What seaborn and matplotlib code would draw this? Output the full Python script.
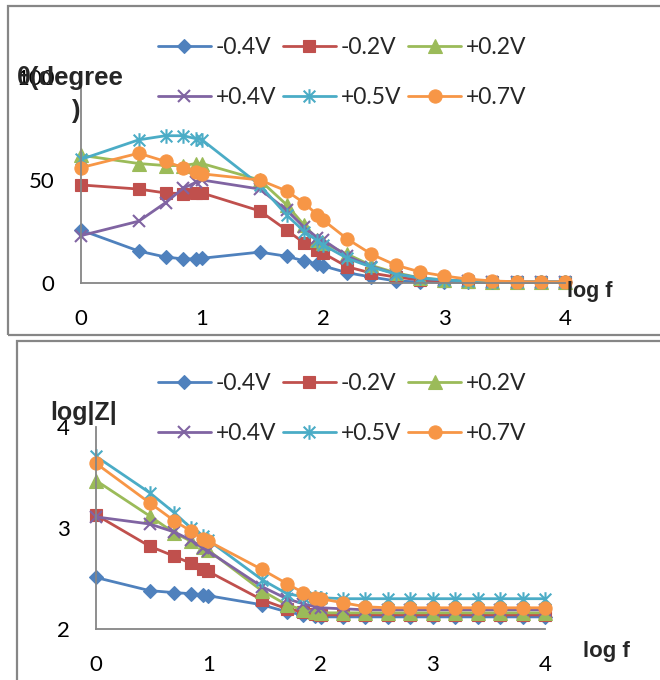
import matplotlib
matplotlib.use("Agg")
import matplotlib.pyplot as plt
import seaborn as sns
import numpy as np
from matplotlib.path import Path
from matplotlib.patches import Rectangle

# ---------------- data ----------------
log_f = [0, 0.477, 0.699, 0.845, 0.954, 1.0, 1.477, 1.699, 1.845, 1.954, 2.0,
         2.2, 2.4, 2.6, 2.8, 3.0, 3.2, 3.4, 3.6, 3.8, 4.0]

series_labels = ["-0.4V", "-0.2V", "+0.2V", "+0.4V", "+0.5V", "+0.7V"]

theta_m04 = [25.7, 15.5, 12.6, 11.7, 11.7, 12.0, 15.0, 13.0, 10.7, 9.3, 8.3,
             5.0, 2.9, 1.0, 0.5, 0.3, 0.3, 0.3, 0.3, 0.3, 0.3]
theta_m02 = [47.6, 45.6, 43.7, 43.4, 43.7, 43.7, 35.0, 25.7, 19.4, 16.0, 14.5,
             7.9, 4.8, 2.9, 1.5, 1.0, 0.6, 0.5, 0.4, 0.4, 0.4]
theta_p02 = [62.0, 58.0, 57.0, 57.0, 58.0, 58.0, 50.0, 38.0, 28.0, 21.0, 19.5,
             14.0, 8.5, 5.0, 2.5, 1.5, 0.8, 0.6, 0.5, 0.5, 0.5]
theta_p04 = [23.0, 30.0, 39.0, 46.0, 49.0, 50.0, 45.6, 35.4, 27.0, 22.0, 21.0,
             13.0, 8.0, 4.5, 2.3, 1.3, 0.8, 0.6, 0.5, 0.5, 0.5]
theta_p05 = [60.0, 69.5, 71.5, 71.5, 70.0, 69.5, 47.6, 33.0, 25.0, 20.5, 18.5,
             12.0, 7.7, 4.4, 2.4, 1.5, 0.8, 0.6, 0.5, 0.5, 0.5]
theta_p07 = [56.0, 63.0, 59.0, 56.0, 54.0, 53.0, 50.0, 44.7, 38.8, 33.0, 30.6,
             21.4, 14.0, 8.7, 5.4, 3.4, 1.9, 1.0, 0.6, 0.5, 0.5]

logz_m04 = [2.51, 2.38, 2.36, 2.35, 2.34, 2.33, 2.24, 2.17, 2.14, 2.13, 2.12,
            2.12, 2.12, 2.12, 2.12, 2.12, 2.12, 2.12, 2.12, 2.12, 2.12]
logz_m02 = [3.13, 2.82, 2.72, 2.65, 2.59, 2.57, 2.29, 2.20, 2.17, 2.15, 2.14,
            2.14, 2.14, 2.14, 2.14, 2.14, 2.14, 2.14, 2.14, 2.14, 2.14]
logz_p02 = [3.47, 3.12, 2.95, 2.87, 2.81, 2.78, 2.38, 2.24, 2.19, 2.17, 2.16,
            2.16, 2.16, 2.16, 2.16, 2.16, 2.16, 2.16, 2.16, 2.16, 2.16]
logz_p04 = [3.11, 3.04, 2.96, 2.88, 2.80, 2.77, 2.42, 2.30, 2.25, 2.22, 2.21,
            2.20, 2.19, 2.19, 2.19, 2.19, 2.19, 2.19, 2.19, 2.19, 2.19]
logz_p05 = [3.71, 3.35, 3.15, 3.00, 2.92, 2.88, 2.49, 2.35, 2.32, 2.32, 2.31,
            2.30, 2.30, 2.30, 2.30, 2.30, 2.30, 2.30, 2.30, 2.30, 2.30]
logz_p07 = [3.64, 3.25, 3.07, 2.97, 2.89, 2.87, 2.59, 2.45, 2.36, 2.31, 2.30,
            2.26, 2.22, 2.21, 2.21, 2.21, 2.21, 2.21, 2.21, 2.21, 2.21]

x_ticks = [0, 1, 2, 3, 4]
x_ticklabels = ["0", "1", "2", "3", "4"]
theta_ticks = [0, 50, 100]
theta_ticklabels = ["0", "50", "100"]
logz_ticks = [2, 3, 4]
logz_ticklabels = ["2", "3", "4"]

theta_series = [theta_m04, theta_m02, theta_p02, theta_p04, theta_p05, theta_p07]
logz_series = [logz_m04, logz_m02, logz_p02, logz_p04, logz_p05, logz_p07]

# ---------------- style ----------------
sns.set_theme(style="white")
plt.rcParams["font.family"] = ["Lato", "DejaVu Sans"]
BOLD_FAMILY = ["Liberation Sans", "DejaVu Sans"]

colors = ["#4F81BD", "#C0504D", "#9BBB59", "#8064A2", "#4BACC6", "#F79646"]
asterisk = Path([(0, -1), (0, 1), (-0.8, -0.8), (0.8, 0.8), (-0.8, 0.8), (0.8, -0.8)],
                [Path.MOVETO, Path.LINETO, Path.MOVETO, Path.LINETO, Path.MOVETO, Path.LINETO])
markers = ["D", "s", "^", "x", asterisk, "o"]
msizes = [7.2, 8.5, 9.5, 9.0, 10.5, 9.5]
mews = [0.8, 0.8, 0.8, 1.5, 1.5, 0.8]
GRAY = "#868686"

W, H = 660, 680
fig = plt.figure(figsize=(W / 100, H / 100), dpi=100)


def fx(x):
    return x / W


def fy(y):
    return 1 - y / H


# outer frames
fig.add_artist(Rectangle((fx(8), fy(335)), fx(700 - 8), (335 - 6) / H,
                         transform=fig.transFigure, fill=False, edgecolor=GRAY, lw=1.6))
fig.add_artist(Rectangle((fx(17), fy(720)), fx(720 - 17), (720 - 341) / H,
                         transform=fig.transFigure, fill=False, edgecolor=GRAY, lw=1.6))

ax1 = fig.add_axes([fx(81), fy(283), (565 - 81) / W, (283 - 77) / H])
ax2 = fig.add_axes([fx(96), fy(629), (545 - 96) / W, (629 - 427) / H])


def draw(ax, series):
    for vals, lab, c, m, ms, mew in zip(series, series_labels, colors, markers, msizes, mews):
        sns.lineplot(x=log_f, y=vals, ax=ax, color=c, marker=m, markersize=ms,
                     markeredgecolor=c, markerfacecolor=c, markeredgewidth=mew,
                     linewidth=2.0, label=lab, clip_on=False, sort=False,
                     errorbar=None)
    leg = ax.get_legend()
    if leg is not None:
        leg.remove()


def style_axes(ax, yticks, yticklabels, ylim):
    ax.set_xlim(0, 4)
    ax.set_ylim(*ylim)
    ax.set_xticks(x_ticks)
    ax.set_xticklabels(x_ticklabels)
    ax.set_yticks(yticks)
    ax.set_yticklabels(yticklabels)
    for s in ["top", "right"]:
        ax.spines[s].set_visible(False)
    for s in ["left", "bottom"]:
        ax.spines[s].set_color(GRAY)
        ax.spines[s].set_linewidth(1.3)
    ax.tick_params(axis="both", direction="out", length=6, width=1.3, color=GRAY,
                   labelsize=16, labelcolor="black", pad=13)
    ax.set_xlabel("")
    ax.set_ylabel("")
    ax.patch.set_alpha(0)


draw(ax1, theta_series)
draw(ax2, logz_series)
style_axes(ax1, theta_ticks, theta_ticklabels, (0, 100))
style_axes(ax2, logz_ticks, logz_ticklabels, (2, 4))


def make_legend(ax, top_y):
    h, l = ax.get_legend_handles_labels()
    order = [0, 3, 1, 4, 2, 5]
    leg = fig.legend([h[i] for i in order], [l[i] for i in order], ncol=3,
                     loc="upper left", bbox_to_anchor=(fx(158), fy(top_y)),
                     bbox_transform=fig.transFigure, frameon=False, fontsize=16.5,
                     handlelength=2.3, handletextpad=0.22, columnspacing=0.3,
                     labelspacing=1.27, borderpad=0, borderaxespad=0)
    return leg


make_legend(ax1, 37)
make_legend(ax2, 373)

# axis titles
fig.text(fx(17), fy(78), "θ(degree", fontsize=18.5, fontweight="bold", va="center",
         ha="left", family=BOLD_FAMILY)
fig.text(fx(75), fy(111), ")", fontsize=18.5, fontweight="bold", va="center",
         ha="center", family=BOLD_FAMILY)
fig.text(fx(567), fy(291), "log f", fontsize=15.5, fontweight="bold", va="center",
         ha="left", family=BOLD_FAMILY)
fig.text(fx(50), fy(413), "log|Z|", fontsize=18, fontweight="bold", va="center",
         ha="left", family=BOLD_FAMILY)
fig.text(fx(583), fy(652), "log f", fontsize=16, fontweight="bold", va="center",
         ha="left", family=BOLD_FAMILY)

fig.savefig("out.png", dpi=100)
